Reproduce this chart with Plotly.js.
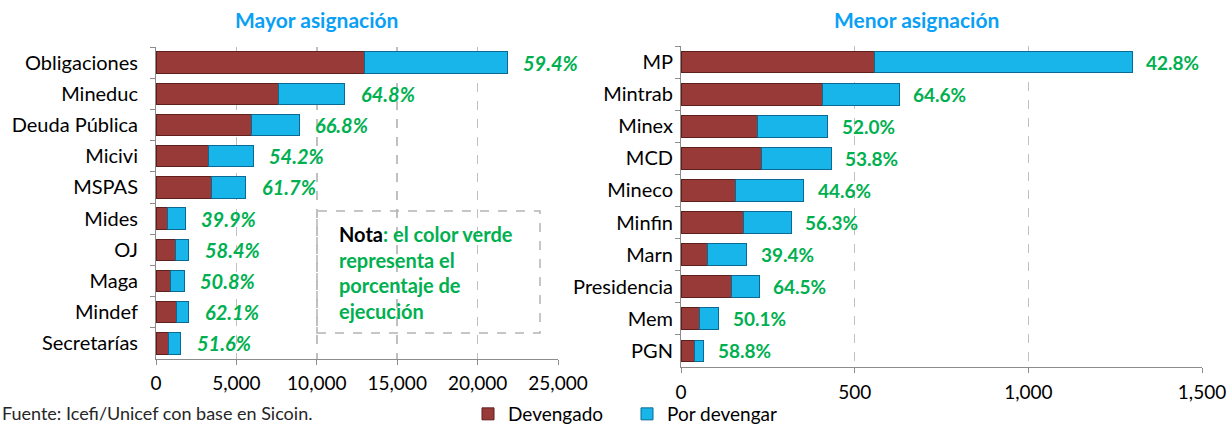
<!DOCTYPE html>
<html>
<head>
<meta charset="utf-8">
<script src="https://cdn.plot.ly/plotly-3.0.1.min.js"></script>
<style>html,body{margin:0;padding:0;background:#fff;}#chart{width:1227px;height:424px;}</style>
</head>
<body>
<div id="chart"></div>
<script>
// ---- Data (millones de quetzales) ----
const mayorCategories = ["Obligaciones","Mineduc","Deuda Pública","Micivi","MSPAS","Mides","OJ","Maga","Mindef","Secretarías"];
const mayorDevengado = [12990, 7610, 5960, 3270, 3450, 725, 1190, 890, 1265, 790];
const mayorPorDevengar = [8860, 4140, 2960, 2770, 2140, 1091, 850, 860, 775, 740];
const mayorPct = ["59.4%","64.8%","66.8%","54.2%","61.7%","39.9%","58.4%","50.8%","62.1%","51.6%"];

const menorCategories = ["MP","Mintrab","Minex","MCD","Mineco","Minfin","Marn","Presidencia","Mem","PGN"];
const menorDevengado = [556, 406, 219, 233, 157, 179, 75, 145, 54, 38];
const menorPorDevengar = [743, 222, 203, 200, 196, 139, 115, 80, 54, 27];
const menorPct = ["42.8%","64.6%","52.0%","53.8%","44.6%","56.3%","39.4%","64.5%","50.1%","58.8%"];

const leftTicks = [0, 5000, 10000, 15000, 20000, 25000];
const leftTickText = ["0","5,000","10,000","15,000","20,000","25,000"];
const rightTicks = [0, 500, 1000, 1500];
const rightTickText = ["0","500","1,000","1,500"];

// ---- Styles ----
const FONT = "Lato, 'Open Sans', sans-serif";
const RED = "#983a37", RED_LINE = "#5e1f1d";
const BLUE = "#17b5ea", BLUE_LINE = "#0a6a94";
const GREEN = "#00b050";
const TITLE_BLUE = "#0aa0f5";

const traces = [
  {type:"bar", orientation:"h", name:"Devengado", y:mayorCategories, x:mayorDevengado,
   xaxis:"x", yaxis:"y", marker:{color:RED, line:{color:RED_LINE, width:1}}, hoverinfo:"x+y"},
  {type:"bar", orientation:"h", name:"Por devengar", y:mayorCategories, x:mayorPorDevengar,
   xaxis:"x", yaxis:"y", marker:{color:BLUE, line:{color:BLUE_LINE, width:1}}, hoverinfo:"x+y"},
  {type:"bar", orientation:"h", name:"Devengado", y:menorCategories, x:menorDevengado, showlegend:false,
   xaxis:"x2", yaxis:"y2", marker:{color:RED, line:{color:RED_LINE, width:1}}, hoverinfo:"x+y"},
  {type:"bar", orientation:"h", name:"Por devengar", y:menorCategories, x:menorPorDevengar, showlegend:false,
   xaxis:"x2", yaxis:"y2", marker:{color:BLUE, line:{color:BLUE_LINE, width:1}}, hoverinfo:"x+y"}
];

const annotations = [];
mayorCategories.forEach((c,i)=>{
  annotations.push({x: mayorDevengado[i]+mayorPorDevengar[i], y:c, xref:"x", yref:"y",
    text:mayorPct[i], showarrow:false, xanchor:"left", xshift:14,
    font:{family:FONT, size:20, color:GREEN, weight:"bold", style:"italic"}});
});
menorCategories.forEach((c,i)=>{
  annotations.push({x: menorDevengado[i]+menorPorDevengar[i], y:c, xref:"x2", yref:"y2",
    text:menorPct[i], showarrow:false, xanchor:"left", xshift:12,
    font:{family:FONT, size:19, color:GREEN, weight:"bold"}});
});
// Titles
annotations.push({text:"<b>Mayor asignación</b>", x:316/1227, y:1-20/424, xref:"paper", yref:"paper",
  showarrow:false, xanchor:"center", yanchor:"middle", font:{family:FONT, size:21, color:TITLE_BLUE}});
annotations.push({text:"<b>Menor asignación</b>", x:917/1227, y:1-20/424, xref:"paper", yref:"paper",
  showarrow:false, xanchor:"center", yanchor:"middle", font:{family:FONT, size:21, color:TITLE_BLUE}});
// Source
annotations.push({text:"Fuente: Icefi/Unicef con base en Sicoin.", x:0, y:1-413/424, xref:"paper", yref:"paper",
  showarrow:false, xanchor:"left", yanchor:"middle", font:{family:FONT, size:18, color:"#262626"}});
// Note lines
const noteLines = ["<b>Nota</b><b style='color:"+GREEN+"'>: el color verde</b>",
  "<b>representa el</b>", "<b>porcentaje de</b>", "<b>ejecución</b>"];
const noteY = [234, 260, 285, 311];
noteLines.forEach((t,i)=>{
  annotations.push({text:t, x:337/1227, y:1-noteY[i]/424, xref:"paper", yref:"paper",
    showarrow:false, xanchor:"left", yanchor:"middle", align:"left",
    font:{family:FONT, size:20, color: i===0 ? "#000000" : GREEN}});
});

const axisCommon = {
  showline:true, linecolor:"#8c8c8c", linewidth:1, ticks:"outside", ticklen:5, tickcolor:"#8c8c8c",
  zeroline:false, fixedrange:true
};

const layout = {
  width:1227, height:424,
  margin:{l:0, r:0, t:0, b:0, autoexpand:false},
  paper_bgcolor:"#ffffff", plot_bgcolor:"#ffffff",
  barmode:"stack", bargap:0.32,
  font:{family:FONT, size:19, color:"#000000"},
  showlegend:true,
  legend:{orientation:"h", x:468/1227, y:1-414/424, xanchor:"left", yanchor:"middle",
    font:{family:FONT, size:19, color:"#000"}, itemwidth:30, entrywidth:114, bgcolor:"rgba(0,0,0,0)",
    traceorder:"normal"},
  xaxis:Object.assign({}, axisCommon, {domain:[156/1227, 558/1227], range:[0,25000], anchor:"y",
    tickvals:leftTicks, ticktext:leftTickText, showgrid:true, gridcolor:"#c0c0c0", griddash:"dash", gridwidth:1.5,
    ticklabelstandoff:2, tickfont:{family:FONT, size:19}}),
  yaxis:Object.assign({}, axisCommon, {domain:[1-359/424, 1-47/424], anchor:"x", autorange:"reversed",
    type:"category", tickson:"boundaries", showgrid:false, ticklabelstandoff:13, tickfont:{family:FONT, size:20}}),
  xaxis2:Object.assign({}, axisCommon, {domain:[681/1227, 1202/1227], range:[0,1500], anchor:"y2",
    tickvals:rightTicks, ticktext:rightTickText, showgrid:true, gridcolor:"#c0c0c0", griddash:"dash", gridwidth:1.5,
    ticklabelstandoff:3, tickfont:{family:FONT, size:19}}),
  yaxis2:Object.assign({}, axisCommon, {domain:[1-367/424, 1-46/424], anchor:"x2", autorange:"reversed",
    type:"category", tickson:"boundaries", showgrid:false, ticklabelstandoff:3, tickfont:{family:FONT, size:20}}),
  shapes:[
    {type:"rect", xref:"paper", yref:"paper", x0:317/1227, x1:540/1227, y0:1-333/424, y1:1-211/424,
     line:{color:"#b4b4b4", width:1.5, dash:"dash"}, fillcolor:"rgba(255,255,255,0)"}
  ],
  annotations:annotations
};

Plotly.newPlot("chart", traces, layout, {displayModeBar:false, staticPlot:true});
</script>
</body>
</html>
